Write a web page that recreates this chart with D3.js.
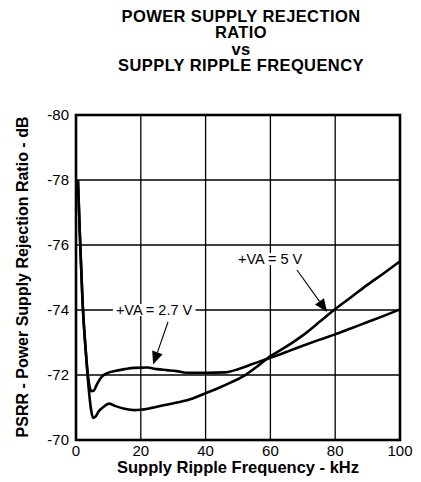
<!DOCTYPE html>
<html>
<head>
<meta charset="utf-8">
<script src="https://cdn.jsdelivr.net/npm/d3@7"></script>
<style>
  body { margin: 0; background: #fff; }
  text { font-family: Arial, "Liberation Sans", sans-serif; fill: #000; }
</style>
</head>
<body>
<div id="chart"></div>
<script>
"use strict";

const titleLines = ["POWER SUPPLY REJECTION", "RATIO", "vs", "SUPPLY RIPPLE FREQUENCY"];
const xTicks = [0, 20, 40, 60, 80, 100];
const yTicks = [-80, -78, -76, -74, -72, -70];

// +VA = 5 V
const freq5 = [0.6, 1.2, 2, 3, 4, 4.7, 5.3, 6, 7, 8.5, 10.2, 12, 15, 18, 20, 23, 27, 32, 36, 40, 44, 48, 52, 56, 60, 65, 70, 75, 80, 85, 90, 95, 100];
const psrr5 = [-78, -76.3, -74.3, -72.75, -71.5, -70.9, -70.68, -70.72, -70.88, -71.02, -71.12, -71.05, -70.96, -70.92, -70.93, -70.98, -71.07, -71.17, -71.28, -71.44, -71.6, -71.78, -71.98, -72.27, -72.58, -72.88, -73.22, -73.62, -74.03, -74.4, -74.78, -75.13, -75.5];

// +VA = 2.7 V
const freq27 = [0.6, 1.2, 2, 3, 4, 4.8, 5.5, 6.5, 8, 9.5, 12, 15, 18, 22, 25, 28, 31, 34, 40, 46, 50, 54, 58, 62, 66, 70, 75, 80, 85, 90, 95, 100];
const psrr27 = [-78, -76.3, -74.3, -72.75, -71.75, -71.5, -71.52, -71.72, -71.95, -72.05, -72.12, -72.18, -72.22, -72.23, -72.18, -72.15, -72.12, -72.07, -72.07, -72.08, -72.18, -72.32, -72.46, -72.6, -72.75, -72.9, -73.08, -73.25, -73.44, -73.63, -73.82, -74.02];

const size = { width: 421, height: 482, left: 76, right: 400, top: 115, bottom: 440 };

const svg = d3.select("#chart").append("svg")
  .attr("width", size.width)
  .attr("height", size.height);

const x = d3.scaleLinear().domain([0, 100]).range([size.left, size.right]);
const y = d3.scaleLinear().domain([-70, -80]).range([size.bottom, size.top]);

// title
svg.append("g").selectAll("text")
  .data(titleLines)
  .enter()
  .append("text")
  .attr("x", 241)
  .attr("y", (d, i) => 21.5 + i * 16.6)
  .attr("text-anchor", "middle")
  .style("font-size", "16.5px")
  .style("font-weight", "bold")
  .style("letter-spacing", "0.4px")
  .text(d => d);

// grid
svg.append("g").selectAll("line")
  .data(xTicks.slice(1, -1))
  .enter().append("line")
  .attr("x1", d => x(d)).attr("x2", d => x(d))
  .attr("y1", size.top).attr("y2", size.bottom)
  .attr("stroke", "#000").attr("stroke-width", 1.3);

svg.append("g").selectAll("line")
  .data(yTicks.slice(1, -1))
  .enter().append("line")
  .attr("x1", size.left).attr("x2", size.right)
  .attr("y1", d => y(d)).attr("y2", d => y(d))
  .attr("stroke", "#000").attr("stroke-width", 1.3);

// tick labels
svg.append("g").selectAll("text")
  .data(yTicks)
  .enter().append("text")
  .attr("x", size.left - 7)
  .attr("y", d => y(d) + 5)
  .attr("text-anchor", "end")
  .style("font-size", "15px")
  .text(d => d);

svg.append("g").selectAll("text")
  .data(xTicks)
  .enter().append("text")
  .attr("x", d => x(d))
  .attr("y", size.bottom + 16)
  .attr("text-anchor", "middle")
  .style("font-size", "15px")
  .text(d => d);

// axis titles
svg.append("text")
  .attr("x", 238)
  .attr("y", 473)
  .attr("text-anchor", "middle")
  .style("font-size", "16.5px")
  .style("font-weight", "bold")
  .text("Supply Ripple Frequency - kHz");

svg.append("text")
  .attr("transform", "translate(28,277) rotate(-90)")
  .attr("text-anchor", "middle")
  .style("font-size", "16px")
  .style("font-weight", "bold")
  .text("PSRR - Power Supply Rejection Ratio - dB");

// curves
const line = d3.line()
  .x(d => x(d[0]))
  .y(d => y(d[1]))
  .curve(d3.curveMonotoneX);

[[freq5, psrr5], [freq27, psrr27]].forEach(s => {
  svg.append("path")
    .datum(d3.zip(s[0], s[1]))
    .attr("d", line)
    .attr("fill", "none")
    .attr("stroke", "#000")
    .attr("stroke-width", 2.6)
    .attr("stroke-linejoin", "round");
});

// annotations
function annotate(label, tx, ty, fromX, fromY, tipX, tipY) {
  let g = svg.append("g");
  let bg = g.append("rect").attr("fill", "#fff");
  let t = g.append("text")
    .attr("x", x(tx))
    .attr("y", y(ty) + 5)
    .attr("text-anchor", "middle")
    .style("font-size", "14.5px")
    .text(label);
  let bb = t.node().getBBox();
  bg.attr("x", bb.x - 3).attr("y", bb.y + 2)
    .attr("width", bb.width + 6).attr("height", bb.height - 4);

  let x0 = x(fromX), y0 = y(fromY), x1 = x(tipX), y1 = y(tipY);
  let ang = Math.atan2(y1 - y0, x1 - x0);
  let len = 13, half = 5.5;
  let bx = x1 - len * Math.cos(ang), by = y1 - len * Math.sin(ang);
  g.append("line")
    .attr("x1", x0).attr("y1", y0).attr("x2", bx).attr("y2", by)
    .attr("stroke", "#000").attr("stroke-width", 1.1);
  g.append("path")
    .attr("d", "M" + x1 + "," + y1 +
      "L" + (bx + half * Math.sin(ang)) + "," + (by - half * Math.cos(ang)) +
      "L" + (bx - half * Math.sin(ang)) + "," + (by + half * Math.cos(ang)) + "Z")
    .attr("fill", "#000");
}

annotate("+VA = 2.7 V", 24.1, -74, 28.4, -73.63, 23.8, -72.32);
annotate("+VA = 5 V", 59.9, -75.57, 68.2, -75.23, 77.5, -73.94);

// frame
svg.append("rect")
  .attr("x", size.left).attr("y", size.top)
  .attr("width", size.right - size.left).attr("height", size.bottom - size.top)
  .attr("fill", "none")
  .attr("stroke", "#000")
  .attr("stroke-width", 2.6);
</script>
</body>
</html>
